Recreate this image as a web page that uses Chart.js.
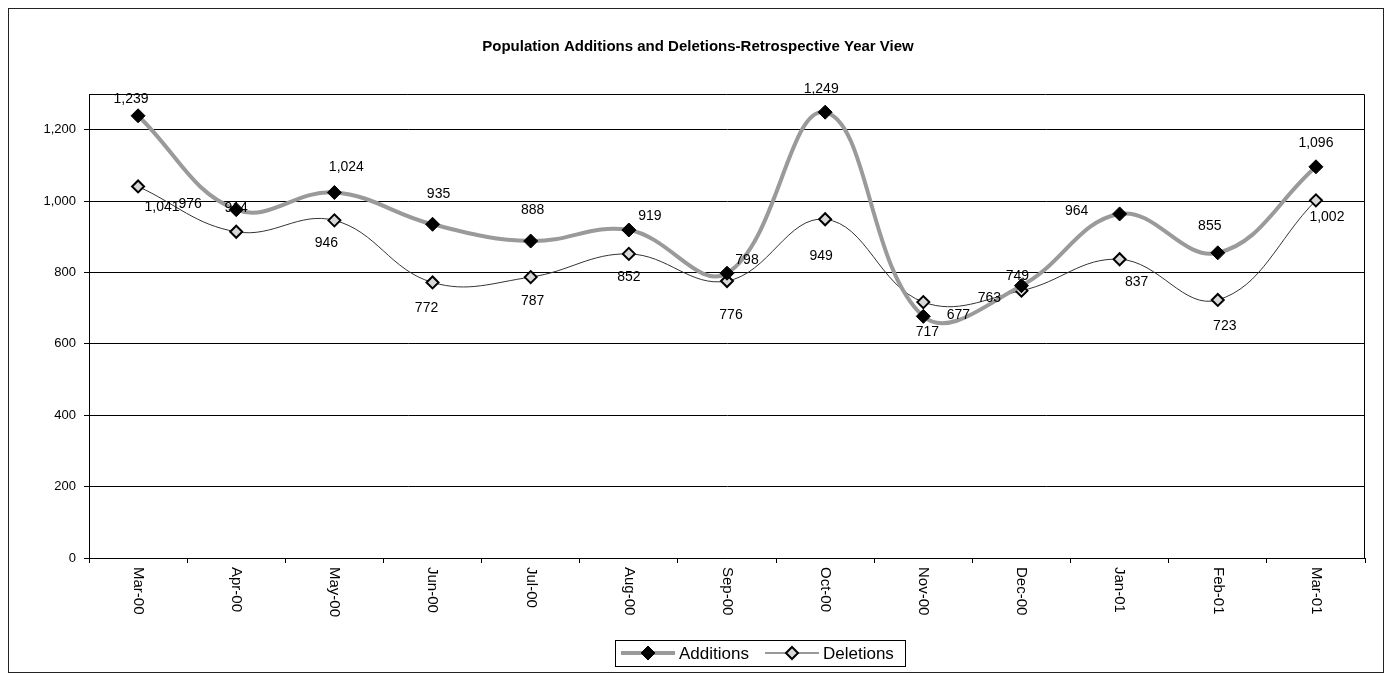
<!DOCTYPE html>
<html>
<head>
<meta charset="utf-8">
<script src="https://cdn.jsdelivr.net/npm/chart.js@4.4.1/dist/chart.umd.min.js"></script>
<style>
  body { margin: 0; background: #fff; }
  #wrap { position: relative; width: 1390px; height: 681px; }
</style>
</head>
<body>
<div id="wrap"><canvas id="popChart"></canvas></div>
<script>
// values
const months = ["Mar-00", "Apr-00", "May-00", "Jun-00", "Jul-00", "Aug-00", "Sep-00",
  "Oct-00", "Nov-00", "Dec-00", "Jan-01", "Feb-01", "Mar-01"];
const additions = [1239, 976, 1024, 935, 888, 919, 798, 1249, 677, 763, 964, 855, 1096];
const deletions = [1041, 914, 946, 772, 787, 852, 776, 949, 717, 749, 837, 723, 1002];
const yTicks = [0, 200, 400, 600, 800, 1000, 1200];

// where each data label sits relative to its point (the original had them hand-dragged)
const addLabelOffsets = [[-7, -17], [-46, -6], [12, -25], [6, -30], [2, -31], [21, -14], [20, -13],
  [-4, -23], [35, -1], [-32, 12], [-43, -3], [-8, -27], [0, -24]];
const delLabelOffsets = [[24, 21], [0, -24], [-8, 23], [-6, 26], [2, 24], [0, 23], [4, 34],
  [-4, 37], [4, 30], [-4, -15], [17, 23], [7, 26], [11, 17]];

const FONT = "'Liberation Sans', Arial, sans-serif";
const fmt = (v) => v.toLocaleString("en-US");

const extras = {
  id: "extras",
  afterDraw(chart) {
    const ctx = chart.ctx;
    const area = chart.chartArea;
    const xScale = chart.scales.x;
    ctx.save();

    // outer frame
    ctx.strokeStyle = "#222";
    ctx.lineWidth = 1;
    ctx.strokeRect(8.5, 8.5, 1375, 664);

    // plot area box (top + right edges)
    ctx.strokeStyle = "#000";
    ctx.beginPath();
    ctx.moveTo(area.left, area.top + 0.5);
    ctx.lineTo(area.right - 0.5, area.top + 0.5);
    ctx.lineTo(area.right - 0.5, area.bottom);
    ctx.stroke();

    // title
    ctx.fillStyle = "#000";
    ctx.font = "bold 15px " + FONT;
    ctx.textAlign = "center";
    ctx.textBaseline = "middle";
    ctx.fillText("Population Additions and Deletions-Retrospective Year View", 698, 47);

    // data labels
    ctx.font = "14px " + FONT;
    const sets = [[0, addLabelOffsets], [1, delLabelOffsets]];
    sets.forEach(([di, offs]) => {
      const meta = chart.getDatasetMeta(di);
      const vals = chart.data.datasets[di].data;
      meta.data.forEach((pt, i) => {
        ctx.fillText(fmt(vals[i]), pt.x + offs[i][0], pt.y + offs[i][1]);
      });
    });

    // x labels, rotated clockwise, reading top to bottom
    ctx.font = "15px " + FONT;
    ctx.textAlign = "left";
    months.forEach((m, i) => {
      const x = xScale.getPixelForTick(i);
      ctx.save();
      ctx.translate(x, area.bottom + 9);
      ctx.rotate(Math.PI / 2);
      ctx.fillText(m, 0, 0);
      ctx.restore();
    });

    // legend
    const lx = 615, ly = 640, lw = 290, lh = 26;
    ctx.strokeStyle = "#000";
    ctx.lineWidth = 1;
    ctx.strokeRect(lx + 0.5, ly + 0.5, lw, lh);
    const cy = ly + lh / 2;
    const items = [
      { ds: chart.data.datasets[0], x0: lx + 6 },
      { ds: chart.data.datasets[1], x0: lx + 150 }
    ];
    ctx.font = "17px " + FONT;
    items.forEach((it) => {
      const ds = it.ds;
      ctx.strokeStyle = ds.borderColor;
      ctx.lineWidth = ds.borderWidth;
      ctx.beginPath();
      ctx.moveTo(it.x0, cy);
      ctx.lineTo(it.x0 + 54, cy);
      ctx.stroke();
      const r = ds.pointRadius;
      const mx = it.x0 + 27;
      ctx.beginPath();
      ctx.moveTo(mx, cy - r);
      ctx.lineTo(mx + r, cy);
      ctx.lineTo(mx, cy + r);
      ctx.lineTo(mx - r, cy);
      ctx.closePath();
      ctx.fillStyle = ds.pointBackgroundColor;
      ctx.fill();
      ctx.lineWidth = ds.pointBorderWidth;
      ctx.strokeStyle = ds.pointBorderColor;
      ctx.stroke();
      ctx.fillStyle = "#000";
      ctx.fillText(ds.label, it.x0 + 58, cy + 1);
    });

    ctx.restore();
  }
};

new Chart(document.getElementById("popChart"), {
  type: "line",
  data: {
    labels: months,
    datasets: [
      {
        label: "Additions",
        data: additions,
        borderColor: "#9a9a9a",
        borderWidth: 4,
        tension: 0.4,
        pointStyle: "rectRot",
        pointRadius: 7,
        pointBackgroundColor: "#000",
        pointBorderColor: "#000",
        pointBorderWidth: 1
      },
      {
        label: "Deletions",
        data: deletions,
        borderColor: "#333",
        borderWidth: 1,
        tension: 0.4,
        pointStyle: "rectRot",
        pointRadius: 6,
        pointBackgroundColor: "#d8d8d8",
        pointBorderColor: "#000",
        pointBorderWidth: 2
      }
    ]
  },
  options: {
    responsive: true,
    maintainAspectRatio: false,
    animation: false,
    layout: { padding: { top: 94, right: 25, left: 0, bottom: 0 } },
    scales: {
      x: {
        offset: true,
        grid: { offset: true, drawOnChartArea: false, drawTicks: true, tickLength: 5, color: "#000" },
        border: { color: "#000", width: 1 },
        ticks: { display: false },
        afterFit(scale) { scale.height = 123; }
      },
      y: {
        min: 0,
        max: 1300,
        afterBuildTicks(scale) { scale.ticks = yTicks.map((v) => ({ value: v })); },
        afterFit(scale) { scale.width = 89; },
        grid: { color: "#000", lineWidth: 1, tickLength: 5 },
        border: { color: "#000", width: 1 },
        ticks: {
          color: "#000",
          font: { family: FONT, size: 13 },
          padding: 8,
          callback: (v) => fmt(v)
        }
      }
    },
    plugins: {
      legend: { display: false },
      title: { display: false },
      tooltip: { enabled: false }
    }
  },
  plugins: [extras]
});
</script>
</body>
</html>
